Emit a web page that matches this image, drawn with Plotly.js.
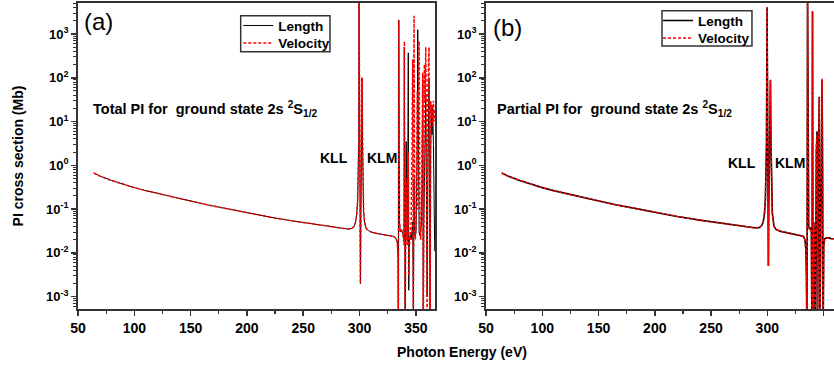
<!DOCTYPE html>
<html>
<head>
<meta charset="utf-8">
<script src="https://cdn.plot.ly/plotly-3.0.1.min.js"></script>
<style>html,body{margin:0;padding:0;background:#fff;}#chart{width:834px;height:368px;}</style>
</head>
<body>
<div id="chart"></div>
<script>
// ---- Data ----
// Panel (a): Total PI
const energyA = [64, 70, 80, 90, 100, 110, 120, 135, 150, 165, 180, 200, 220, 240, 260, 275, 285, 290, 293, 295, 296.5, 297.5, 298.3, 298.9, 299.3, 299.6, 300.0, 300.4, 300.8, 301.2, 301.6, 302.0, 302.3, 302.7, 303.1, 303.6, 304.5, 306, 308, 312, 318, 325, 330, 332, 333.5, 334.2, 334.5, 334.8, 335.1, 335.5, 336.2, 337, 338, 339, 339.5, 339.8, 340.1, 340.5, 341, 341.4, 341.8, 342.3, 342.8, 343.3, 343.7, 344.2, 345, 345.8, 346.5, 347.2, 347.8, 348.4, 348.9, 349.5, 350.2, 350.8, 351.3, 351.7, 352.2, 352.9, 353.6, 354.3, 355, 355.6, 356.1, 356.6, 357.1, 357.6, 358.2, 358.8, 359.4, 360, 360.6, 361.1, 361.7, 362.2, 362.7, 363.2, 363.8, 364.4, 365, 365.6, 366.2, 366.8];
const lengthA = [0.67, 0.56, 0.45, 0.37, 0.31, 0.265, 0.23, 0.185, 0.15, 0.125, 0.105, 0.082, 0.066, 0.054, 0.045, 0.039, 0.036, 0.035, 0.036, 0.04, 0.05, 0.075, 0.15, 0.5, 3, 8000, 2, 0.1, 0.002, 0.08, 0.5, 3, 100, 3, 0.3, 0.09, 0.05, 0.036, 0.032, 0.029, 0.027, 0.025, 0.024, 0.022, 0.018, 0.008, 0.0001, 2100, 0.5, 0.05, 0.03, 0.034, 0.032, 0.025, 0.02, 500, 0.3, 0.0001, 0.05, 3.5, 0.3, 0.02, 0.3, 370, 0.0014, 0.02, 0.025, 0.02, 0.03, 0.05, 0.0003, 0.5, 0.03, 0.025, 0.03, 0.2, 5, 1250, 0.2, 0.03, 0.025, 0.03, 0.05, 0.5, 90, 0.0001, 0.05, 0.5, 5, 40, 0.5, 0.001, 0.5, 10, 100, 0.1, 0.0001, 2, 20, 5, 20, 3, 0.05, 0.011];
const velocityA = [0.67, 0.56, 0.45, 0.37, 0.31, 0.265, 0.23, 0.185, 0.15, 0.125, 0.105, 0.082, 0.066, 0.054, 0.045, 0.039, 0.036, 0.035, 0.036, 0.04, 0.05, 0.075, 0.15, 0.5, 3, 8000, 2, 0.1, 0.002, 0.08, 0.5, 3, 100, 3, 0.3, 0.09, 0.05, 0.036, 0.032, 0.029, 0.027, 0.025, 0.024, 0.022, 0.018, 0.008, 0.0001, 2100, 0.5, 0.05, 0.03, 0.033, 0.03, 0.022, 0.015, 680, 0.5, 0.0001, 0.03, 0.5, 0.05, 0.015, 0.05, 2, 0.003, 0.015, 0.02, 0.05, 1, 260, 0.0001, 2600, 0.1, 0.02, 0.05, 1, 50, 0.1, 5, 680, 0.05, 0.02, 0.1, 2, 130, 0.0001, 0.5, 200, 30, 500, 5, 0.0001, 50, 220, 500, 1, 0.0001, 30, 12, 25, 8, 30, 10, 20];

// Panel (b): Partial PI
const energyB = [64, 70, 80, 90, 100, 110, 120, 135, 150, 165, 180, 200, 220, 240, 260, 275, 285, 290, 293, 295, 296.5, 297.5, 298.3, 298.9, 299.3, 299.8, 300.3, 300.7, 301.0, 301.3, 301.8, 302.3, 302.8, 303.3, 303.8, 304.5, 306, 308, 312, 318, 325, 330, 332, 333.5, 334.3, 334.8, 335.3, 335.8, 336.3, 336.8, 337.5, 338.5, 339.2, 339.7, 340.2, 340.7, 341.3, 342, 342.6, 343.1, 343.6, 344.2, 344.7, 345.2, 345.7, 346.2, 346.7, 347.3, 347.9, 348.7, 349.2, 349.6, 350.2, 351, 352.5, 355, 357, 359, 360];
const lengthB = [0.67, 0.56, 0.45, 0.37, 0.31, 0.265, 0.23, 0.185, 0.15, 0.126, 0.107, 0.085, 0.068, 0.056, 0.047, 0.041, 0.038, 0.037, 0.038, 0.042, 0.052, 0.08, 0.16, 0.5, 3, 4100, 2, 0.1, 0.005, 0.1, 1, 5, 90, 3, 0.3, 0.08, 0.04, 0.034, 0.031, 0.029, 0.027, 0.025, 0.024, 0.02, 0.012, 0.003, 0.0001, 9000, 0.3, 0.04, 0.035, 0.038, 0.03, 0.0001, 3300, 0.0001, 0.05, 0.02, 0.0001, 0.1, 2, 6, 0.0001, 0.5, 3, 37, 0.0001, 0.01, 0.5, 90, 0.5, 0.0001, 0.015, 0.021, 0.022, 0.022, 0.021, 0.021, 0.021];
const velocityB = [0.67, 0.56, 0.45, 0.37, 0.31, 0.265, 0.23, 0.185, 0.15, 0.126, 0.107, 0.085, 0.068, 0.056, 0.047, 0.041, 0.038, 0.037, 0.038, 0.042, 0.052, 0.08, 0.16, 0.5, 3, 4100, 2, 0.1, 0.005, 0.1, 1, 5, 85, 3, 0.3, 0.08, 0.04, 0.034, 0.031, 0.029, 0.027, 0.025, 0.024, 0.02, 0.012, 0.003, 0.0001, 9000, 0.3, 0.04, 0.035, 0.037, 0.03, 0.0001, 3300, 0.0001, 0.05, 0.02, 0.0001, 0.1, 2.5, 5, 0.0001, 0.5, 3, 35, 0.0001, 0.01, 0.5, 95, 0.5, 0.0001, 0.015, 0.021, 0.022, 0.022, 0.021, 0.021, 0.021];

const seriesNames = ['Length', 'Velocity'];
const yTickValues = [0.001, 0.01, 0.1, 1, 10, 100, 1000];
const yTickLabels = ['10<sup>-3</sup>', '10<sup>-2</sup>', '10<sup>-1</sup>', '10<sup>0</sup>', '10<sup>1</sup>', '10<sup>2</sup>', '10<sup>3</sup>'];
const xTickValues = [50, 100, 150, 200, 250, 300, 350];

// ---- Styling / layout ----
const FONT = 'Liberation Sans, Arial, sans-serif';
const minorY = [];
for (let d = -4; d <= 3; d++) for (let m = 2; m <= 9; m++) minorY.push(m * Math.pow(10, d));

function xAxis(domain, range, anchor) {
  return {
    domain: domain, range: range, anchor: anchor,
    tickmode: 'array', tickvals: xTickValues,
    ticks: 'outside', ticklen: 5, tickwidth: 1.5, tickcolor: '#333',
    minor: {dtick: 25, tick0: 50, ticks: 'outside', ticklen: 3, tickwidth: 1.2, tickcolor: '#333', showgrid: false},
    showline: true, mirror: true, linecolor: '#333', linewidth: 1.8,
    showgrid: false, zeroline: false,
    tickfont: {family: FONT, size: 14, color: '#000', weight: 'bold'}
  };
}
function yAxis(anchor, showTitle) {
  const ax = {
    type: 'log', range: [-3.281, 3.708], anchor: anchor, domain: [0, 1],
    tickmode: 'array', tickvals: yTickValues, ticktext: yTickLabels,
    ticks: 'outside', ticklen: 5, tickwidth: 1.5, tickcolor: '#333',
    minor: {tickmode: 'array', tickvals: minorY, ticks: 'outside', ticklen: 3, tickwidth: 1, tickcolor: '#333', showgrid: false},
    showline: true, mirror: true, linecolor: '#333', linewidth: 1.8,
    showgrid: false, zeroline: false,
    tickfont: {family: FONT, size: 13, color: '#000', weight: 'bold'}
  };
  if (showTitle) {
    ax.title = {text: 'PI cross section (Mb)', font: {family: FONT, size: 14, color: '#000', weight: 'bold'}, standoff: 19};
  }
  return ax;
}

const traces = [
  {x: energyA, y: lengthA, name: seriesNames[0], type: 'scatter', mode: 'lines', xaxis: 'x', yaxis: 'y', legend: 'legend',
   line: {color: '#000', width: 1}},
  {x: energyA, y: velocityA, name: seriesNames[1], type: 'scatter', mode: 'lines', xaxis: 'x', yaxis: 'y', legend: 'legend3',
   line: {color: '#ff0000', width: 1.5, dash: '3px,2px'}},
  {x: energyB, y: lengthB, name: seriesNames[0], type: 'scatter', mode: 'lines', xaxis: 'x2', yaxis: 'y2', legend: 'legend2',
   line: {color: '#000', width: 1.6}},
  {x: energyB, y: velocityB, name: seriesNames[1], type: 'scatter', mode: 'lines', xaxis: 'x2', yaxis: 'y2', legend: 'legend4',
   line: {color: '#ff0000', width: 1.5, dash: '3px,2px'}}
];

function legendAt(x, y) {
  return {
    x: x, y: y, xanchor: 'left', yanchor: 'middle', bgcolor: 'rgba(0,0,0,0)', borderwidth: 0,
    font: {family: FONT, size: 13.5, color: '#000', weight: 'bold'}, itemwidth: 30
  };
}

const annFont = {family: FONT, size: 14, color: '#000', weight: 'bold'};
function ann(text, x, y, opts) {
  return Object.assign({text: text, x: x, y: y, xref: 'paper', yref: 'paper', showarrow: false,
    xanchor: 'center', yanchor: 'middle', font: annFont}, opts || {});
}
function frame(x0, x1, y0, y1) {
  return {type: 'rect', xref: 'paper', yref: 'paper', x0: x0, x1: x1, y0: y0, y1: y1,
    line: {color: '#333', width: 1.5}, fillcolor: 'rgba(0,0,0,0)', layer: 'above'};
}

const layout = {
  width: 834, height: 368,
  margin: {l: 78, r: 0, t: 3, b: 59},
  paper_bgcolor: '#fff', plot_bgcolor: '#fff',
  showlegend: true,
  xaxis: xAxis([0, 0.4722], [50, 367], 'y'),
  yaxis: yAxis('x', true),
  xaxis2: xAxis([0.5397, 1], [50, 359.3], 'y2'),
  yaxis2: yAxis('x2', false),
  legend: legendAt(0.212, 0.9258),
  legend3: legendAt(0.212, 0.8683),
  legend2: legendAt(0.7672, 0.9422),
  legend4: legendAt(0.7672, 0.8846),
  shapes: [
    frame(0.2152, 0.3333, 0.8408, 0.9585),
    frame(0.7725, 0.8915, 0.8595, 0.9748)
  ],
  annotations: [
    ann('(a)', 0.0271, 0.938, {font: {family: FONT, size: 24, color: '#000'}}),
    ann('(b)', 0.5681, 0.92, {font: {family: FONT, size: 24, color: '#000'}}),
    ann('Total PI for  ground state 2s <sup>2</sup>S<sub>1/2</sub>', 0.0172, 0.655, {xanchor: 'left', font: {family: FONT, size: 14.5, color: '#000', weight: 'bold'}}),
    ann('Partial PI for  ground state 2s <sup>2</sup>S<sub>1/2</sub>', 0.5512, 0.655, {xanchor: 'left', font: {family: FONT, size: 14.5, color: '#000', weight: 'bold'}}),
    ann('KLL', 0.338, 0.495),
    ann('KLM', 0.4015, 0.495),
    ann('KLL', 0.8777, 0.477),
    ann('KLM', 0.942, 0.477),
    ann('Photon Energy (eV)', 0.508, -0.1405)
  ]
};

Plotly.newPlot('chart', traces, layout, {displayModeBar: false, staticPlot: true});
</script>
</body>
</html>
